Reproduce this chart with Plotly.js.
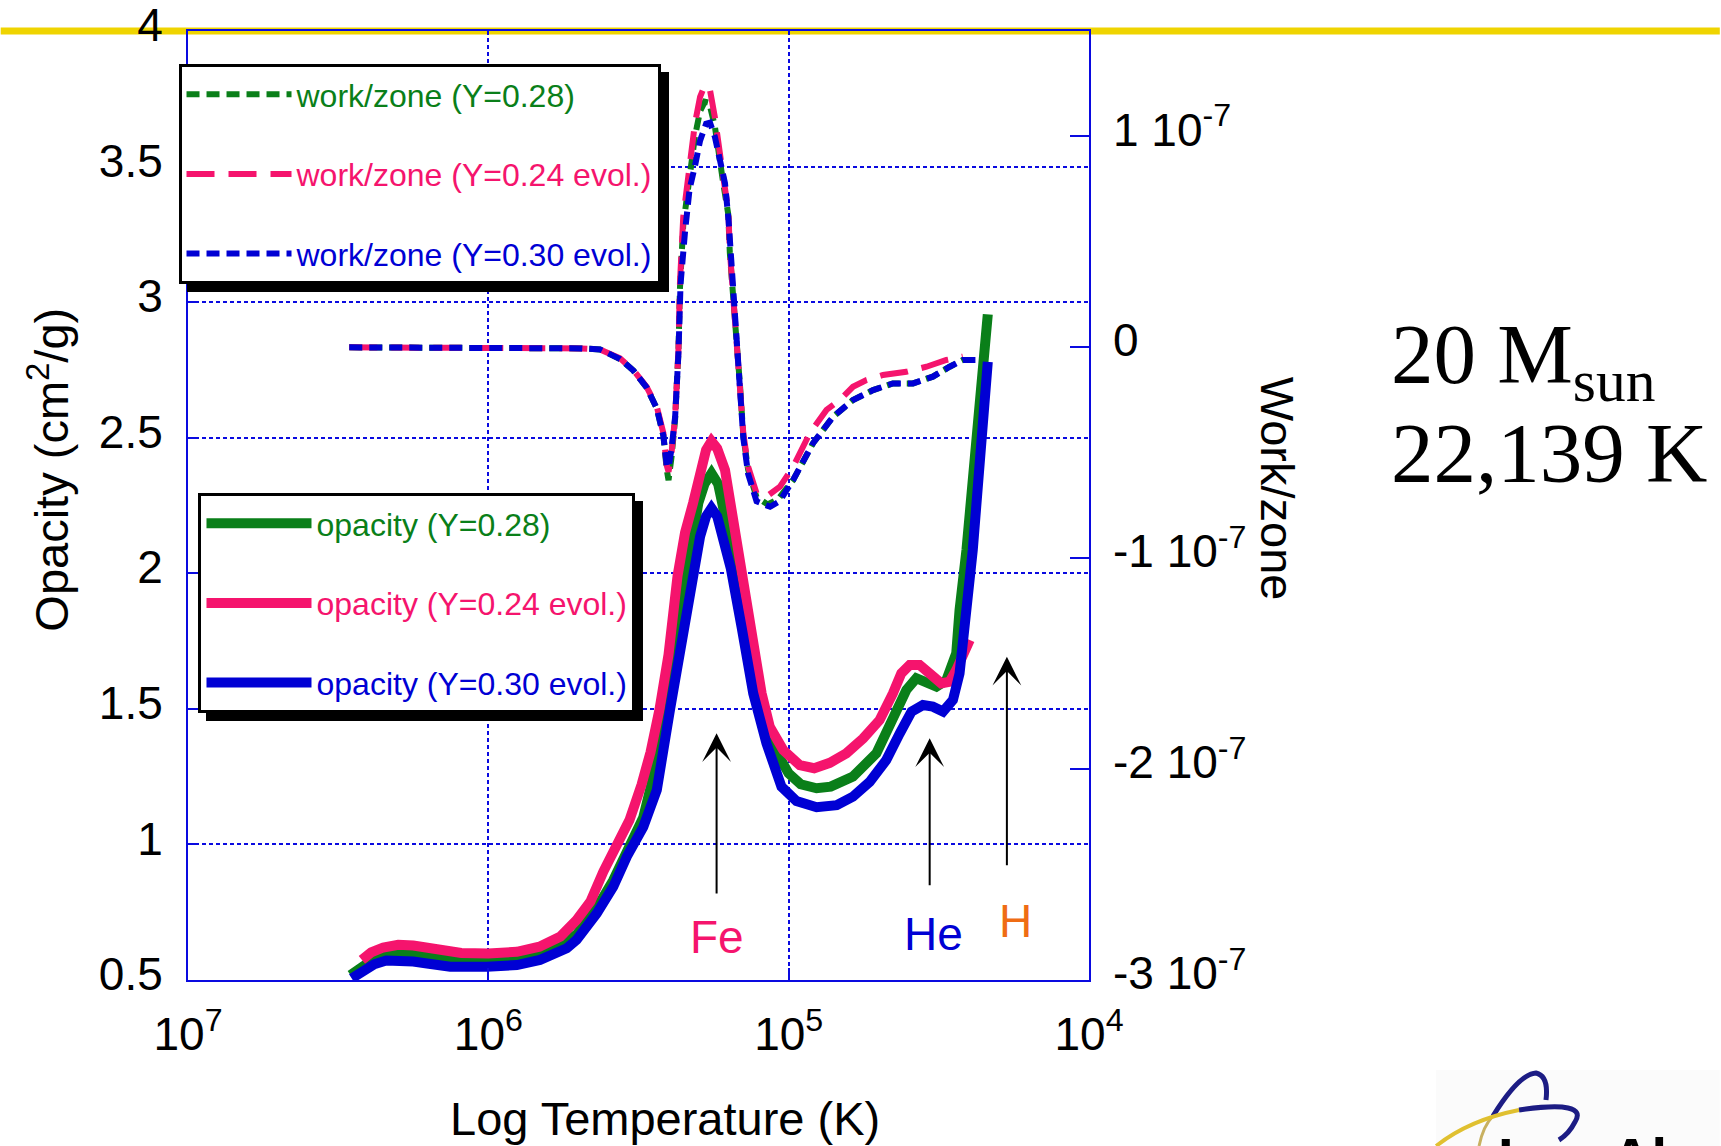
<!DOCTYPE html>
<html>
<head>
<meta charset="utf-8">
<script src="https://cdn.plot.ly/plotly-3.0.1.min.js"></script>
<style>
  html, body { margin: 0; padding: 0; background: #ffffff; }
  #chart { width: 1721px; height: 1146px; }
</style>
</head>
<body>
<div id="chart"></div>
<script>
// ---- Opacity (cm^2/g) versus log10 T, hot (left) to cool (right) ----
const logT_op28 = [6.459, 6.42, 6.38, 6.34, 6.293, 6.23, 6.17, 6.10, 6.00, 5.905, 5.83, 5.76, 5.706, 5.639, 5.584, 5.539, 5.484, 5.455, 5.412, 5.38, 5.34, 5.301, 5.28, 5.257, 5.235, 5.21, 5.18, 5.14, 5.10, 5.075, 5.045, 5.00, 4.96, 4.907, 4.86, 4.786, 4.708, 4.653, 4.608, 4.575, 4.541, 4.508, 4.475, 4.442, 4.431, 4.408, 4.337];
const opacity28 = [0.518, 0.550, 0.578, 0.594, 0.600, 0.592, 0.582, 0.575, 0.573, 0.580, 0.597, 0.628, 0.668, 0.765, 0.868, 0.968, 1.100, 1.230, 1.498, 1.750, 1.994, 2.258, 2.330, 2.369, 2.330, 2.200, 2.049, 1.803, 1.557, 1.450, 1.348, 1.262, 1.222, 1.207, 1.213, 1.250, 1.336, 1.459, 1.570, 1.613, 1.600, 1.582, 1.606, 1.705, 1.865, 2.086, 2.955];

const logT_op24 = [6.421, 6.39, 6.35, 6.30, 6.25, 6.18, 6.09, 6.00, 5.905, 5.83, 5.76, 5.706, 5.66, 5.617, 5.575, 5.53, 5.49, 5.46, 5.43, 5.40, 5.37, 5.345, 5.318, 5.295, 5.275, 5.257, 5.238, 5.212, 5.185, 5.168, 5.145, 5.124, 5.09, 5.063, 5.018, 4.963, 4.915, 4.863, 4.808, 4.752, 4.697, 4.653, 4.625, 4.597, 4.564, 4.531, 4.492, 4.464, 4.442, 4.397];
const opacity24 = [0.574, 0.602, 0.620, 0.630, 0.627, 0.617, 0.600, 0.598, 0.604, 0.623, 0.660, 0.721, 0.790, 0.900, 0.995, 1.090, 1.220, 1.340, 1.498, 1.700, 1.990, 2.150, 2.260, 2.381, 2.455, 2.487, 2.460, 2.381, 2.197, 2.049, 1.920, 1.803, 1.557, 1.434, 1.348, 1.292, 1.281, 1.301, 1.336, 1.391, 1.459, 1.557, 1.631, 1.662, 1.662, 1.631, 1.594, 1.600, 1.643, 1.754];

const logT_op30 = [6.455, 6.42, 6.38, 6.34, 6.293, 6.25, 6.204, 6.127, 6.005, 5.905, 5.828, 5.77, 5.739, 5.706, 5.639, 5.584, 5.539, 5.484, 5.439, 5.395, 5.365, 5.34, 5.318, 5.295, 5.275, 5.257, 5.238, 5.218, 5.193, 5.157, 5.118, 5.074, 5.024, 4.974, 4.907, 4.84, 4.786, 4.730, 4.675, 4.630, 4.591, 4.553, 4.520, 4.486, 4.453, 4.431, 4.408, 4.387, 4.337];
const opacity30 = [0.506, 0.535, 0.558, 0.572, 0.574, 0.568, 0.561, 0.549, 0.549, 0.555, 0.574, 0.600, 0.617, 0.648, 0.746, 0.844, 0.955, 1.065, 1.201, 1.498, 1.700, 1.828, 1.994, 2.135, 2.210, 2.240, 2.210, 2.135, 2.020, 1.803, 1.557, 1.373, 1.213, 1.160, 1.137, 1.145, 1.176, 1.231, 1.311, 1.410, 1.490, 1.514, 1.508, 1.490, 1.533, 1.631, 1.902, 2.086, 2.780];

// ---- Work per zone, in units of 1e-7 ----
const logT_w28 = [6.463, 6.20, 5.95, 5.76, 5.69, 5.628, 5.5615, 5.517, 5.473, 5.439, 5.417, 5.406, 5.400, 5.390, 5.378, 5.367, 5.362, 5.351, 5.329, 5.312, 5.295, 5.279, 5.265, 5.246, 5.218, 5.201, 5.196, 5.185, 5.173, 5.162, 5.151, 5.135, 5.107, 5.070, 5.035, 4.985, 4.919, 4.852, 4.786, 4.719, 4.653, 4.586, 4.520, 4.464, 4.420, 4.400];
const work28 = [0, 0, 0, 0, -0.005, -0.01, -0.055, -0.110, -0.190, -0.290, -0.420, -0.580, -0.630, -0.520, -0.340, -0.020, 0.280, 0.580, 0.820, 1.000, 1.120, 1.165, 1.160, 1.050, 0.780, 0.630, 0.450, 0.210, 0.020, -0.180, -0.420, -0.580, -0.710, -0.745, -0.720, -0.629, -0.455, -0.329, -0.250, -0.203, -0.171, -0.171, -0.139, -0.092, -0.060, -0.060];

const logT_w24 = [6.463, 6.20, 5.95, 5.76, 5.69, 5.628, 5.5615, 5.517, 5.473, 5.439, 5.417, 5.406, 5.400, 5.390, 5.378, 5.367, 5.362, 5.351, 5.329, 5.312, 5.295, 5.279, 5.262, 5.246, 5.218, 5.201, 5.196, 5.185, 5.173, 5.162, 5.151, 5.135, 5.107, 5.074, 5.029, 4.985, 4.930, 4.874, 4.830, 4.786, 4.741, 4.686, 4.608, 4.541, 4.475, 4.420];
const work24 = [0, 0, 0, 0, -0.005, -0.01, -0.052, -0.108, -0.187, -0.282, -0.408, -0.560, -0.590, -0.500, -0.329, -0.013, 0.304, 0.619, 0.857, 1.062, 1.188, 1.244, 1.220, 1.094, 0.809, 0.651, 0.461, 0.224, 0.035, -0.171, -0.408, -0.566, -0.692, -0.708, -0.661, -0.566, -0.408, -0.297, -0.250, -0.187, -0.155, -0.131, -0.116, -0.092, -0.060, -0.044];

const logT_w30 = [6.463, 6.20, 5.95, 5.76, 5.69, 5.628, 5.5615, 5.517, 5.473, 5.439, 5.417, 5.406, 5.400, 5.390, 5.378, 5.367, 5.36, 5.345, 5.33, 5.312, 5.295, 5.275, 5.262, 5.246, 5.23, 5.212, 5.20, 5.19, 5.178, 5.165, 5.151, 5.135, 5.107, 5.062, 5.030, 4.985, 4.919, 4.852, 4.786, 4.719, 4.653, 4.586, 4.520, 4.464, 4.420, 4.364];
const work30 = [0, 0, 0, 0, -0.005, -0.01, -0.055, -0.110, -0.190, -0.290, -0.420, -0.560, -0.570, -0.480, -0.330, -0.030, 0.300, 0.550, 0.750, 0.860, 0.980, 1.060, 1.065, 1.000, 0.880, 0.778, 0.600, 0.400, 0.150, -0.120, -0.430, -0.600, -0.730, -0.756, -0.730, -0.629, -0.455, -0.329, -0.250, -0.203, -0.171, -0.171, -0.139, -0.092, -0.060, -0.060];

// ---- Axis ticks ----
const tempTicks = [1e7, 1e6, 1e5, 1e4];
const tempTickText = ['10<sup>7</sup>', '10<sup>6</sup>', '10<sup>5</sup>', '10<sup>4</sup>'];
const opacityTicks = [0.5, 1, 1.5, 2, 2.5, 3, 3.5, 4];
const workTicks = [1e-7, 0, -1e-7, -2e-7, -3e-7];
const workTickText = ['1 10<sup>-7</sup>', '0', '-1 10<sup>-7</sup>', '-2 10<sup>-7</sup>', '-3 10<sup>-7</sup>'];

// ---- Marked opacity bumps: label, log10 T, arrow tail / head (opacity units), label height ----
const bumpLabels = ['Fe', 'He', 'H'];
const bumpLogT = [5.24, 4.5305, 4.2734];
const bumpArrowTail = [0.8135, 0.844, 0.918];
const bumpArrowHead = [1.41, 1.3914, 1.6924];
const bumpLabelLogT = [5.24, 4.517, 4.2445];
const bumpLabelY = [0.6586, 0.6697, 0.7176];

const GREEN = '#0a7f19';
const PINK = '#f5146d';
const BLUE = '#0000d4';
const ORANGE = '#ef6c14';
const FRAME = '#0a0ae0';
const bumpColors = [PINK, BLUE, ORANGE];

const SANS = 'Liberation Sans, Arial, Helvetica, sans-serif';
const SERIF = 'Liberation Serif, Times New Roman, serif';

const toT = arr => arr.map(v => Math.pow(10, v));
const toWork = arr => arr.map(v => v * 1e-7);
const colored = (txt, c) => '<span style="color:' + c + '">' + txt + '</span>';

const traces = [
  { x: toT(logT_w28), y: toWork(work28), yaxis: 'y2', mode: 'lines', legend: 'legend', legendgroup: 'w28',
    name: colored('work/zone (Y=0.28)', GREEN), line: { color: GREEN, width: 6, dash: '13px,7px' } },
  { x: toT(logT_w24), y: toWork(work24), yaxis: 'y2', mode: 'lines', legend: 'legend', legendgroup: 'w24',
    name: colored('work/zone (Y=0.24 evol.)', PINK), line: { color: PINK, width: 6, dash: '28px,14px' } },
  { x: toT(logT_w30), y: toWork(work30), yaxis: 'y2', mode: 'lines', legend: 'legend', legendgroup: 'w30',
    name: colored('work/zone (Y=0.30 evol.)', BLUE), line: { color: BLUE, width: 6, dash: '13px,7px' } },
  { x: toT(logT_op28), y: opacity28, yaxis: 'y', mode: 'lines', legend: 'legend2', legendgroup: 'o28',
    name: colored('opacity (Y=0.28)', GREEN), line: { color: GREEN, width: 10 } },
  { x: toT(logT_op24), y: opacity24, yaxis: 'y', mode: 'lines', legend: 'legend2', legendgroup: 'o24',
    name: colored('opacity (Y=0.24 evol.)', PINK), line: { color: PINK, width: 10 } },
  { x: toT(logT_op30), y: opacity30, yaxis: 'y', mode: 'lines', legend: 'legend2', legendgroup: 'o30',
    name: colored('opacity (Y=0.30 evol.)', BLUE), line: { color: BLUE, width: 10 } }
];

// plot area in pixels: left 187.5, right 1089.5, top 31, bottom 980
const PX = X => (X - 187.5) / 902;
const PY = Y => (980 - Y) / 949;
const pt = (X, Y) => PX(X).toFixed(4) + ',' + PY(Y).toFixed(4);

const annotations = [
  // axis titles
  { xref: 'paper', yref: 'paper', x: PX(664.6), xanchor: 'center', y: PY(1118), yanchor: 'middle',
    text: 'Log Temperature (K)', showarrow: false, font: { size: 47, family: SANS, color: '#000' } },
  { xref: 'paper', yref: 'paper', x: PX(48), xanchor: 'center', y: PY(470), yanchor: 'middle',
    text: 'Opacity (cm<sup>2</sup>/g)', textangle: -90, showarrow: false, font: { size: 47, family: SANS, color: '#000' } },
  { xref: 'paper', yref: 'paper', x: PX(1279), xanchor: 'center', y: PY(489), yanchor: 'middle',
    text: 'Work/zone', textangle: 90, showarrow: false, font: { size: 47, family: SANS, color: '#000' } },
  // model description
  { xref: 'paper', yref: 'paper', x: PX(1390), xanchor: 'left', y: PY(305), yanchor: 'top',
    text: '20 M<sub>sun</sub>', showarrow: false, font: { size: 85, family: SERIF, color: '#000' } },
  { xref: 'paper', yref: 'paper', x: PX(1390), xanchor: 'left', y: PY(404), yanchor: 'top',
    text: '22,139 K', showarrow: false, font: { size: 85, family: SERIF, color: '#000' } },
  { xref: 'paper', yref: 'paper', x: PX(1497), xanchor: 'left', y: PY(1124), yanchor: 'top',
    text: '<b>Los Alamos</b>', showarrow: false, font: { size: 56, family: SANS, color: '#000' } }
];
bumpLabels.forEach((lab, i) => {
  annotations.push({ xref: 'x', yref: 'y', x: bumpLogT[i], y: bumpArrowHead[i],
    axref: 'x', ayref: 'y', ax: bumpLogT[i], ay: bumpArrowTail[i], text: '',
    showarrow: true, arrowhead: 3, arrowsize: 2.4, arrowwidth: 2, arrowcolor: '#000' });
  annotations.push({ xref: 'x', yref: 'y', x: bumpLabelLogT[i], y: bumpLabelY[i], text: lab,
    showarrow: false, font: { size: 46, family: SANS, color: bumpColors[i] } });
});

const shapes = [
  // gold rule across the top of the page
  { type: 'line', xref: 'paper', yref: 'paper', x0: PX(0), x1: PX(1721), y0: 1, y1: 1,
    line: { color: '#efd400', width: 7 }, layer: 'below' },
  // corner logo
  { type: 'rect', xref: 'paper', yref: 'paper', x0: PX(1437), x1: PX(1721), y0: PY(1146), y1: PY(1070),
    fillcolor: '#fbfbfb', line: { width: 0 }, layer: 'below' },
  { type: 'path', xref: 'paper', yref: 'paper', layer: 'above',
    path: 'M' + pt(1480, 1146) + ' Q' + pt(1484, 1126) + ' ' + pt(1494, 1116),
    line: { color: '#c8b060', width: 3 } },
  { type: 'path', xref: 'paper', yref: 'paper', layer: 'above',
    path: 'M' + pt(1494, 1116) + ' Q' + pt(1520, 1074) + ' ' + pt(1537, 1073) + ' Q' + pt(1550, 1076) + ' ' + pt(1547, 1100),
    line: { color: '#1c1c84', width: 5 } },
  { type: 'path', xref: 'paper', yref: 'paper', layer: 'above',
    path: 'M' + pt(1437, 1146) + ' Q' + pt(1470, 1120) + ' ' + pt(1520, 1110),
    line: { color: '#e0c030', width: 4 } },
  { type: 'path', xref: 'paper', yref: 'paper', layer: 'above',
    path: 'M' + pt(1520, 1110) + ' Q' + pt(1590, 1100) + ' ' + pt(1576, 1122) + ' Q' + pt(1570, 1134) + ' ' + pt(1560, 1140),
    line: { color: '#1c1c84', width: 5 } }
];

const legendBase = {
  xanchor: 'left', yanchor: 'top', bgcolor: '#ffffff', bordercolor: '#000000', borderwidth: 3,
  font: { size: 32, family: SANS, color: '#000' }, itemwidth: 105, tracegroupgap: 35,
  traceorder: 'grouped'
};

const layout = {
  width: 1721, height: 1146,
  margin: { l: 187.5, r: 631.5, t: 31, b: 166, autoexpand: false },
  paper_bgcolor: '#ffffff', plot_bgcolor: '#ffffff',
  font: { family: SANS, size: 46, color: '#000' },
  showlegend: true,
  xaxis: {
    type: 'log', range: [7, 4], tickmode: 'array', tickvals: tempTicks, ticktext: tempTickText,
    ticks: 'inside', ticklen: 12, tickwidth: 2, tickcolor: FRAME,
    showline: true, linecolor: FRAME, linewidth: 2, mirror: true,
    showgrid: true, gridcolor: FRAME, gridwidth: 2, griddash: '4px,3px', zeroline: false,
    tickfont: { size: 46 }, ticklabelstandoff: 13, ticklabeloverflow: 'allow'
  },
  yaxis: {
    range: [0.5, 4], tickmode: 'array', tickvals: opacityTicks,
    ticks: 'inside', ticklen: 10, tickwidth: 2, tickcolor: FRAME,
    showline: true, linecolor: FRAME, linewidth: 2, mirror: true,
    showgrid: true, gridcolor: FRAME, gridwidth: 2, griddash: '4px,3px', zeroline: false,
    tickfont: { size: 46 }, ticklabelstandoff: 14, ticklabelshift: -6, ticklabeloverflow: 'allow'
  },
  yaxis2: {
    overlaying: 'y', side: 'right', anchor: 'x',
    range: [-3e-7, 1.5e-7], tickmode: 'array', tickvals: workTicks, ticktext: workTickText,
    ticks: 'inside', ticklen: 19, tickwidth: 2, tickcolor: FRAME,
    showline: false, showgrid: false, zeroline: false,
    tickfont: { size: 46 }, ticklabelstandoff: 23, ticklabelshift: -7, ticklabeloverflow: 'allow'
  },
  legend: Object.assign({}, legendBase, { x: PX(178), y: PY(64) }),
  legend2: Object.assign({}, legendBase, { x: PX(198), y: PY(493) }),
  annotations: annotations,
  shapes: shapes
};

// drop shadow behind each legend box
function addLegendShadows(gd) {
  gd.querySelectorAll('.infolayer rect.bg').forEach(bg => {
    const parent = bg.parentNode;
    if (!/^legend/.test(parent.getAttribute('class') || '')) return;
    const shadow = bg.cloneNode(false);
    const x = parseFloat(bg.getAttribute('x')) || 0;
    const y = parseFloat(bg.getAttribute('y')) || 0;
    shadow.setAttribute('x', x + 8);
    shadow.setAttribute('y', y + 8);
    shadow.setAttribute('class', 'legend-shadow');
    shadow.style.fill = '#000';
    shadow.style.stroke = '#000';
    parent.insertBefore(shadow, bg);
  });
}

Plotly.newPlot('chart', traces, layout, { staticPlot: true, displayModeBar: false })
  .then(addLegendShadows);
</script>
</body>
</html>
